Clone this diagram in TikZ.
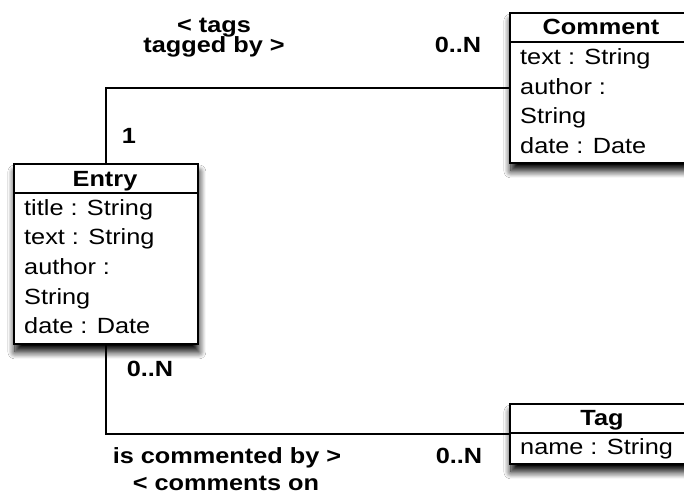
\documentclass[tikz,border=0pt]{standalone}
\usepackage{fontspec}
\setmainfont{Liberation Sans}[FakeStretch=1.15]
\usetikzlibrary{shadows.blur}
\newcommand\umlfont{\fontsize{22}{29}\selectfont}
\tikzset{
  cls/.style={draw, line width=1.8pt, fill=white, rectangle, anchor=north west, inner sep=0pt,
    blur shadow={shadow xshift=1pt, shadow yshift=-8pt, shadow blur radius=7pt, shadow blur steps=12, shadow opacity=100}},
  hdr/.style={line width=1.8pt},
  attr/.style={anchor=base west, inner sep=0pt, font=\umlfont},
  ttl/.style={anchor=base, inner sep=0pt, font=\umlfont\bfseries},
  lbl/.style={anchor=base, inner sep=0pt, font=\umlfont\bfseries},
  conn/.style={line width=1.3pt},
}
\begin{document}
\begin{tikzpicture}[x=1pt,y=-1pt]
\useasboundingbox (0,0) rectangle (684,497);
\fill[white] (0,0) rectangle (684,497);
% classes
\node[cls, minimum width=184pt, minimum height=180pt] (entry) at (13,163) {};
\draw[hdr] ([yshift=-30pt]entry.north west) -- ([yshift=-30pt]entry.north east);
\node[cls, minimum width=184pt, minimum height=150pt] (comment) at (509,12) {};
\draw[hdr] ([yshift=-30pt]comment.north west) -- ([yshift=-30pt]comment.north east);
\node[cls, minimum width=186pt, minimum height=60pt] (tag) at (509,403) {};
\draw[hdr] ([yshift=-30pt]tag.north west) -- ([yshift=-30pt]tag.north east);
% Entry texts
\node[ttl] (entryname) at (105,186) {Entry};
\node[attr] (e1) at (24,215) {title : String};
\node[attr] (e2) at (24,244.7) {text : String};
\node[attr] (e3) at (24,274.4) {author :};
\node[attr] (e4) at (24,304) {String};
\node[attr] (e5) at (24,333.8) {date : Date};
% Comment texts
\node[ttl] (commentname) at (601,35) {Comment};
\node[attr] (c1) at (520,65) {text : String};
\node[attr] (c2) at (520,94.5) {author :};
\node[attr] (c3) at (520,124) {String};
\node[attr] (c4) at (520,153.5) {date : Date};
% Tag texts
\node[ttl] (tagname) at (602,425) {Tag};
\node[attr] (t1) at (520,454) {name : String};
% connectors
\draw[conn] (entry.north) |- (comment.west);
\draw[conn] (entry.south) |- (tag.west);
% labels
\node[lbl] (l1) at (214,33) {< tags};
\node[lbl] (l2) at (214,53) {tagged by >};
\node[lbl] (l3) at (458,53) {0..N};
\node[lbl] (l4) at (129,144) {1};
\node[lbl] (l5) at (150,376) {0..N};
\node[lbl] (l6) at (227,463) {is commented by >};
\node[lbl] (l7) at (226,490) {< comments on};
\node[lbl] (l8) at (459,463) {0..N};
\end{tikzpicture}
\end{document}
